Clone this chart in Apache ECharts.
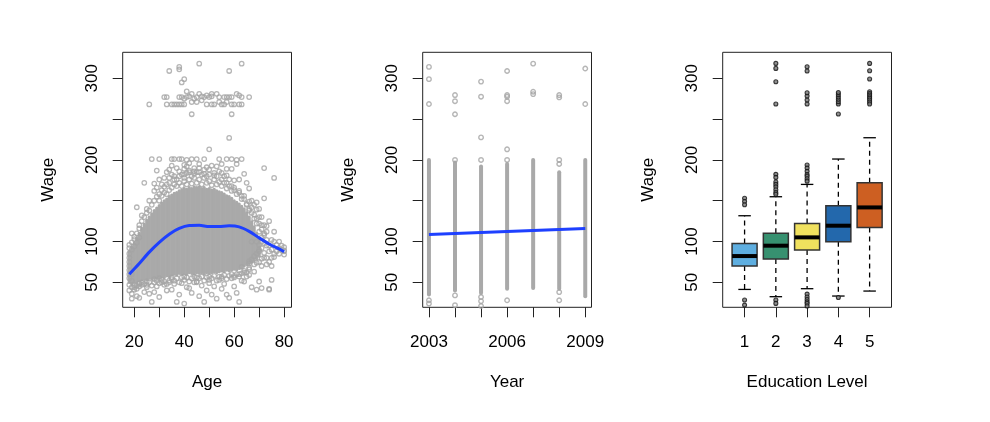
<!DOCTYPE html>
<html>
<head>
<meta charset="utf-8">
<script src="https://cdn.jsdelivr.net/npm/echarts@6/dist/echarts.min.js"></script>
<style>
  html, body { margin: 0; padding: 0; background: #fff; }
  #main { width: 990px; height: 422px; }
</style>
</head>
<body>
<div id="main"></div>
<script>
// ---- panel 1: wage vs age ----
// dense core of the cloud, one column per age (wage low / high)
var coreAges = [18,19,20,21,22,23,24,25,26,27,28,29,30,31,32,33,34,35,36,37,38,39,40,41,42,43,44,
  45,46,47,48,49,50,51,52,53,54,55,56,57,58,59,60,61,62,63,64,65,66,67,68,69,70];
var coreLow = [50,48,50,51,52,53,54,53,55,54,55,56,55,57,56,58,57,59,60,59,61,60,61,60,62,61,60,
  62,61,62,60,62,61,62,63,62,63,64,63,65,64,65,66,65,67,68,70,72,73,75,77,79,82];
var coreHigh = [88,93,98,104,110,116,121,126,130,134,138,141,144,147,150,152,155,157,159,160,162,163,165,164,166,165,167,
  166,167,165,166,164,165,163,164,162,161,160,158,156,155,153,150,148,146,143,140,135,130,124,118,110,102];

// individual points outside the core
var agePoints = [
  [46,318],[63,318],[38,314],[38,311],[34,309],[58,309],[40,299],[39,295],[41,284],
  [26,268],[32,277],[33,277],[33,268],[35,268],[36,268],[37,268],[38,277],[39,277],[40,275],[41,277],
  [42,278],[43,281],[44,275],[45,277],[46,281],[47,278],[48,277],[49,279],[50,277],[51,278],[51,281],
  [53,281],[54,277],[56,277],[57,277],[58,277],[59,277],[61,281],[62,279],[63,277],[66,277],
  [38,268],[39,268],[40,268],[43,271],[45,271],[47,273],[49,268],[51,268],[52,268],[54,271],[55,268],
  [56,268],[57,271],[59,268],[60,268],[62,268],[63,268],
  [43,256],[59,256],[58,227],[50,213],
  [27,201],[30,201],[35,201],[36,201],[38,201],[39,201],[41,200],[43,201],[45,201],[48,201],[54,201],
  [57,201],[59,201],[61,200],[63,201],
  [72,190],[76,178],
  [29,187],[33,185],[35,193],[37,190],[40,189],[42,187],[46,190],[49,191],[51,193],[55,195],[59,189],
  [61,195],[64,183],[34,178],[44,183],[52,184],[57,181],[30,176],[28,171],[62,176],[65,172],[66,165],
  [24,172],[21,142],[28,162],[22,116],[20,106],[19,110],[23,132],[25,140],[26,150],[66,149],[69,139],
  [73,119],[72,153],[69,148],[67,150],[70,130],[71,120],[74,125],[76,112],[78,100],[80,93],[80,88],
  [80,84],[76,81],[74,75],[71,79],[70,88],[66,73],[68,63],[63,69],[72,86],[73,95],[75,90],[77,96],
  [70,96],[72,108],[67,100],[75,102],[79,90],[78,85],[71,70],[73,80],
  [18,47],[18,40],[19,36],[20,41],[19,30],[21,33],[22,31],[23,47],[24,38],[25,44],[26,36],[27,26],
  [28,38],[29,45],[30,32],[31,50],[32,47],[33,40],[34,52],[35,41],[36,48],[37,26],[38,35],[39,49],
  [40,24],[41,44],[42,43],[43,37],[44,50],[45,51],[46,33],[47,46],[48,26],[49,40],[50,53],[51,35],
  [52,45],[53,30],[54,53],[55,42],[56,48],[57,35],[58,31],[59,55],[60,45],[61,37],[62,26],[63,52],
  [64,51],[65,57],[66,59],[67,44],[69,41],[70,51],[71,43],[74,42],[74,41],[75,53],
  [18,55],[19,52],[20,44],[21,46],[22,49],[18,60],
  [18,92],[18,96],[19,99],[20,103],[21,110],[22,120],[23,125],[24,130],[25,135],[26,138],[27,145],
  [28,150],[29,155],[30,158],[31,163],[32,167],[33,170],[34,172],[36,176],[38,180],[40,182],[42,185],
  [44,186],[46,185],[48,183],[50,182],[53,180],[55,176],[57,172],[59,168],[60,163],[62,160],[63,156],
  [64,152],[65,146],[66,140],[67,135],[68,128],[69,122],[70,112],[71,100],[70,75],[69,74],[68,72],
  [66,68],[64,62],[62,60],[60,58],[55,57],[50,57],[45,56],[40,57],[35,56],[30,55],[28,54],[25,51],[22,48],
  [30,150],[31,156],[32,160],[33,158],[34,163],[35,166],[36,170],[37,168],[38,172],[39,168],[40,174],
  [41,170],[42,176],[43,171],[44,178],[45,172],[46,176],[47,170],[48,178],[49,172],[50,174],[51,169],
  [52,176],[53,170],[54,173],[55,168],[56,172],[57,165],[58,168],[59,162],[60,166],[61,158],[62,162],
  [63,152],[64,156],
  [36,180],[38,186],[40,178],[41,184],[43,180],[45,185],[47,182],[49,180],[50,188],[52,181],[54,186],
  [56,180],[58,176],[60,175],[37,176],[39,182],[44,190],[48,188],[53,192],[46,195],[42,196],[41,192],
  [40,194],[55,184],[57,189],[35,182],[34,188],[32,178],[31,170],[29,166],
  [19,44],[20,47],[21,42],[22,45],[23,50],[24,48],[25,47],[26,50],[27,46],[28,50],[29,52],[30,49],
  [31,53],[32,51],[33,48],[34,50],[35,54],[36,52],[37,55],[38,50],[39,56],[40,53],[41,56],[42,51],
  [43,55],[44,57],[45,50],[46,55],[47,57],[48,52],[49,56],[50,49],[51,55],[52,58],[53,52],[54,57],
  [55,55],[56,59],[57,54],[58,58],[59,60],[60,56],[61,60],[62,57],[63,61],[64,64],[65,62],[66,66],
  [65,145],[66,138],[67,142],[68,133],[69,128],[70,122],[71,115],[72,110],[71,92],[72,98],[70,90],
  [69,85],[68,82],[67,78],[66,76],[69,100],[71,105],[73,112],[72,80],[73,72],[75,70],[74,95],[76,100],
  [77,88],[78,92],[79,95],[80,89],[76,85],[75,80],[74,88],[73,102],[72,120],[71,130],[70,140],[68,145],
  [18,65],[18,70],[18,75],[18,80],[18,85],[19,90],[19,60],[20,94],[21,99],[22,105]
];

// fitted smooth curve
var curveAge = [18,22,26,30,34,38,42,46,50,54,58,62,66,70,74,78,80];
var curveWage = [60,73,87,99,109,116,119.5,119.8,118.4,118.5,119.2,118,112.5,104.5,97,91,87.5];

// ---- panel 2: wage vs year ----
var years = [2003,2004,2005,2006,2007,2008,2009];
var yearLow = [35,40,37,42,43,42,33];
var yearHigh = [200,197,192,195,200,185,200];
var yearPoints = [
  [2003,314],[2003,299],[2003,268.5],[2003,28],[2003,24],
  [2004,279.5],[2004,272],[2004,256],[2004,34],[2004,22],[2004,200],
  [2005,296],[2005,277.5],[2005,227.6],[2005,200],[2005,32],[2005,27],[2005,21],
  [2006,309],[2006,279.5],[2006,277.5],[2006,272],[2006,213],[2006,200],[2006,28],
  [2007,318],[2007,283.6],[2007,280.7],
  [2008,279.5],[2008,276.6],[2008,200],[2008,195],[2008,38],[2008,28],
  [2009,312],[2009,268.5]
];
var trendYear = [2003, 2009];
var trendWage = [108.7, 116.1];

// ---- panel 3: wage by education level ----
var eduLevels = [1,2,3,4,5];
var whiskerLow = [41.3,32.4,42.2,33.2,39.3];
var boxQ1 = [69.9,78.5,89.5,99.8,117.3];
var boxMedian = [82.2,94.9,105.1,119.4,141.8];
var boxQ3 = [97.7,110,122.2,143.9,172.1];
var whiskerHigh = [131.6,154.9,170,201.1,227.2];
var eduOutliers = [
  [1,153],[1,149],[1,145],[1,28.3],[1,22.1],
  [2,182.3],[2,178.6],[2,173],[2,170],[2,167],[2,163.5],[2,160],[2,158],
  [2,268.5],[2,295.8],[2,312.2],[2,318.3],[2,28.3],[2,24.2],
  [3,193.7],[3,190],[3,186],[3,182],[3,180],[3,177],[3,174],
  [3,268.5],[3,273.4],[3,278.3],[3,282.4],[3,308.9],[3,314.2],
  [3,35.6],[3,32],[3,29],[3,26],[3,24],[3,21],
  [4,256.2],[4,268.5],[4,271.4],[4,274.3],[4,277.1],[4,280],[4,282.5],[4,31.5],
  [5,318.3],[5,309.3],[5,299.1],[5,283.6],[5,281.5],[5,279.5],[5,277.5],[5,275.5],[5,273.5],[5,271],[5,268.5]
];
var boxColors = ['#5EAEE0','#379170','#F0E15E','#2368AC','#CD5F22'];

var font = 'Liberation Sans, Arial, Helvetica, sans-serif';
var grey = '#A9A9A9';
var lineBlue = '#1E40FF';

var coreData = coreAges.map(function (a, i) { return [a, coreLow[i], coreHigh[i]]; });
var yearData = years.map(function (y, i) { return [y, yearLow[i], yearHigh[i]]; });
var curveData = curveAge.map(function (a, i) { return [a, curveWage[i]]; });
var trendData = trendYear.map(function (y, i) { return [y, trendWage[i]]; });
var boxData = eduLevels.map(function (e, i) {
  return [e, whiskerLow[i], boxQ1[i], boxMedian[i], boxQ3[i], whiskerHigh[i]];
});

function columnRenderer(width) {
  return function (params, api) {
    var p1 = api.coord([api.value(0), api.value(1)]);
    var p2 = api.coord([api.value(0), api.value(2)]);
    return {
      type: 'line',
      shape: { x1: p1[0], y1: p1[1], x2: p2[0], y2: p2[1] },
      style: { stroke: grey, lineWidth: width, lineCap: 'round' }
    };
  };
}

function renderBox(params, api) {
  var x = api.value(0);
  var lo = api.coord([x, api.value(1)]);
  var q1 = api.coord([x, api.value(2)]);
  var med = api.coord([x, api.value(3)]);
  var q3 = api.coord([x, api.value(4)]);
  var hi = api.coord([x, api.value(5)]);
  var half = api.size([0.8, 0])[0] / 2;
  var cx = lo[0];
  var dash = { stroke: '#000', lineWidth: 1.3, lineDash: [5, 4] };
  var solid = { stroke: '#000', lineWidth: 1.3 };
  return {
    type: 'group',
    children: [
      { type: 'line', shape: { x1: cx, y1: q3[1], x2: cx, y2: hi[1] }, style: dash },
      { type: 'line', shape: { x1: cx, y1: q1[1], x2: cx, y2: lo[1] }, style: dash },
      { type: 'line', shape: { x1: cx - half / 2, y1: hi[1], x2: cx + half / 2, y2: hi[1] }, style: solid },
      { type: 'line', shape: { x1: cx - half / 2, y1: lo[1], x2: cx + half / 2, y2: lo[1] }, style: solid },
      { type: 'rect', shape: { x: cx - half, y: q3[1], width: half * 2, height: q1[1] - q3[1] },
        style: { fill: boxColors[params.dataIndex], stroke: '#333', lineWidth: 1.5 } },
      { type: 'line', shape: { x1: cx - half, y1: med[1], x2: cx + half, y2: med[1] },
        style: { stroke: '#000', lineWidth: 4 } }
    ]
  };
}

function yAxisFor(idx) {
  return {
    gridIndex: idx, type: 'value', min: 19.4, max: 331.9,
    name: 'Wage', nameLocation: 'middle', nameGap: 66, nameRotate: 90,
    nameTextStyle: { fontFamily: font, fontSize: 17, color: '#000' },
    axisLine: { show: false },
    axisTick: { show: true, length: 10, lineStyle: { color: '#222', width: 1 },
      customValues: [50, 100, 150, 200, 250, 300] },
    axisLabel: { rotate: 90, margin: 22, fontFamily: font, fontSize: 17, color: '#000',
      customValues: [50, 100, 200, 300] },
    splitLine: { show: false }
  };
}

function xAxisFor(idx, name, min, max, ticks, labels) {
  return {
    gridIndex: idx, type: 'value', min: min, max: max,
    name: name, nameLocation: 'middle', nameGap: 67,
    nameTextStyle: { fontFamily: font, fontSize: 17, color: '#000' },
    axisLine: { show: false },
    axisTick: { show: true, length: 10, lineStyle: { color: '#222', width: 1 }, customValues: ticks },
    axisLabel: { margin: 27, fontFamily: font, fontSize: 17, color: '#000', customValues: labels,
      formatter: function (v) { return String(v); } },
    splitLine: { show: false }
  };
}

var chart = echarts.init(document.getElementById('main'), null, { renderer: 'canvas' });
var gridBase = { show: true, borderColor: '#222', borderWidth: 1, backgroundColor: 'transparent',
  top: 52.3, height: 255, width: 168.8 };

chart.setOption({
  animation: false,
  backgroundColor: '#fff',
  grid: [
    Object.assign({}, gridBase, { left: 122.7 }),
    Object.assign({}, gridBase, { left: 422.7 }),
    Object.assign({}, gridBase, { left: 722.7 })
  ],
  xAxis: [
    xAxisFor(0, 'Age', 15.36, 82.96, [20, 30, 40, 50, 60, 70, 80], [20, 40, 60, 80]),
    xAxisFor(1, 'Year', 2002.76, 2009.24, years, [2003, 2006, 2009]),
    xAxisFor(2, 'Education Level', 0.3, 5.7, eduLevels, eduLevels)
  ],
  yAxis: [yAxisFor(0), yAxisFor(1), yAxisFor(2)],
  series: [
    { type: 'custom', xAxisIndex: 0, yAxisIndex: 0, renderItem: columnRenderer(3.2),
      data: coreData, silent: true, z: 1 },
    { type: 'scatter', xAxisIndex: 0, yAxisIndex: 0, data: agePoints, symbol: 'circle', symbolSize: 4.5,
      itemStyle: { color: 'rgba(0,0,0,0)', borderColor: '#A4A4A4', borderWidth: 1.3 }, silent: true, z: 2 },
    { type: 'line', xAxisIndex: 0, yAxisIndex: 0, data: curveData, smooth: 0.3, showSymbol: false,
      lineStyle: { color: lineBlue, width: 3 }, silent: true, z: 3 },

    { type: 'custom', xAxisIndex: 1, yAxisIndex: 1, renderItem: columnRenderer(4),
      data: yearData, silent: true, z: 1 },
    { type: 'scatter', xAxisIndex: 1, yAxisIndex: 1, data: yearPoints, symbol: 'circle', symbolSize: 4.5,
      itemStyle: { color: 'rgba(0,0,0,0)', borderColor: '#A4A4A4', borderWidth: 1.4 }, silent: true, z: 2 },
    { type: 'line', xAxisIndex: 1, yAxisIndex: 1, data: trendData, showSymbol: false,
      lineStyle: { color: lineBlue, width: 3 }, silent: true, z: 3 },

    { type: 'custom', xAxisIndex: 2, yAxisIndex: 2, renderItem: renderBox, data: boxData,
      silent: true, z: 2 },
    { type: 'scatter', xAxisIndex: 2, yAxisIndex: 2, data: eduOutliers, symbol: 'circle', symbolSize: 4,
      itemStyle: { color: '#777', borderColor: '#111', borderWidth: 1.1 }, silent: true, z: 3 }
  ]
});
</script>
</body>
</html>
